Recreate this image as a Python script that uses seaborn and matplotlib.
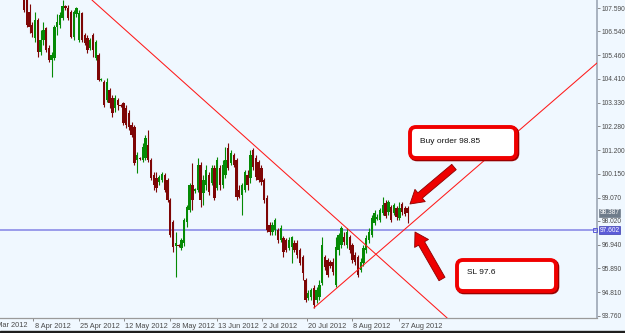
import numpy as np
import pandas as pd
import matplotlib
matplotlib.use("Agg")
import matplotlib.pyplot as plt
import seaborn as sns
from matplotlib.patches import FancyBboxPatch, Rectangle, FancyArrowPatch
from matplotlib.transforms import IdentityTransform, ScaledTranslation, blended_transform_factory

# ---------------- data ----------------
opens = [108.17, 107.95, 107.41, 106.83, 106.24, 107.05, 105.61, 106.15, 106.69, 105.79,
         105.25, 105.34, 106.74, 106.83, 107.14, 107.68, 107.59, 107.41, 106.29, 107.32,
         106.15, 107.37, 106.38, 106.24, 105.79, 106.38, 105.34, 105.48, 104.35, 104.26,
         103.46, 103.91, 103.55, 103.10, 103.46, 103.23, 103.32, 103.10, 102.87, 102.33,
         102.24, 100.76, 100.85, 100.76, 100.85, 101.43, 100.76, 100.08, 99.95, 99.77,
         99.86, 100.08, 99.86, 98.96, 97.97, 96.89, 96.94, 96.80, 97.03, 97.97,
         98.51, 99.64, 99.37, 99.41, 100.53, 99.28, 99.64, 100.08, 99.72, 100.40,
         99.50, 100.40, 99.64, 100.08, 101.30, 100.62, 100.98, 100.76, 99.41, 99.19,
         99.41, 100.08, 99.95, 101.21, 100.85, 100.67, 100.40, 99.86, 99.05, 97.84,
         97.52, 97.61, 97.61, 97.16, 97.25, 97.16, 96.80, 96.85, 97.03, 97.03,
         96.71, 96.40, 95.37, 94.56, 94.60, 95.01, 94.47, 94.60, 95.23, 96.40,
         96.26, 96.17, 96.17, 95.14, 96.71, 96.94, 97.30, 96.94, 97.30, 96.94,
         96.49, 96.40, 95.82, 96.13, 96.71, 97.16, 97.39, 97.93, 98.11, 98.06,
         98.38, 98.83, 98.42, 98.65, 98.38, 98.60, 98.15, 98.78, 98.60, 98.60]
highs = [108.31, 108.08, 107.77, 106.96, 107.41, 107.14, 106.60, 106.96, 106.74, 105.93,
         105.61, 106.83, 107.32, 107.41, 107.95, 107.73, 107.73, 107.50, 107.50, 107.64,
         107.50, 107.41, 106.47, 106.38, 106.24, 106.47, 106.15, 105.57, 104.44, 104.35,
         104.44, 103.99, 103.68, 103.68, 103.55, 103.28, 103.37, 103.23, 103.01, 102.47,
         102.33, 101.12, 100.89, 101.52, 101.88, 102.11, 100.85, 100.22, 100.22, 100.08,
         100.22, 100.17, 99.95, 99.05, 98.06, 97.52, 96.98, 97.25, 98.15, 98.74,
         99.72, 100.62, 99.50, 100.85, 100.67, 100.08, 100.53, 100.22, 100.53, 100.53,
         100.89, 100.53, 100.76, 101.34, 101.52, 101.21, 101.07, 100.85, 99.64, 99.72,
         100.31, 100.31, 101.21, 101.30, 100.98, 100.76, 100.53, 99.95, 99.19, 97.97,
         97.97, 98.15, 97.70, 97.84, 97.34, 97.25, 97.30, 97.34, 97.16, 97.16,
         96.80, 96.49, 95.46, 94.92, 95.01, 95.14, 95.05, 95.37, 97.30, 96.49,
         96.35, 96.26, 96.35, 97.30, 97.48, 97.79, 97.52, 97.70, 97.39, 97.03,
         96.62, 96.49, 96.35, 96.94, 97.39, 97.70, 98.29, 98.51, 98.33, 98.60,
         99.10, 98.96, 98.96, 98.74, 98.83, 98.69, 98.87, 98.87, 98.69, 98.69]
lows = [107.41, 106.74, 106.47, 106.29, 106.06, 105.39, 105.48, 105.93, 105.61, 105.16,
        104.49, 105.25, 106.38, 106.69, 107.05, 107.50, 107.05, 106.24, 106.15, 107.19,
        106.06, 106.06, 105.93, 105.57, 105.70, 105.39, 105.25, 104.31, 104.31, 103.14,
        103.37, 103.10, 102.69, 102.92, 103.01, 103.14, 102.33, 102.20, 102.11, 101.79,
        100.53, 100.17, 100.76, 100.67, 100.76, 100.67, 99.86, 99.41, 99.32, 99.64,
        99.77, 99.32, 98.87, 97.30, 96.62, 95.50, 96.85, 96.71, 96.89, 97.75,
        98.42, 98.51, 99.28, 99.32, 98.65, 98.74, 99.41, 99.19, 99.64, 98.96,
        99.41, 99.41, 99.50, 99.95, 100.31, 100.53, 100.44, 98.96, 99.05, 98.29,
        99.32, 99.41, 99.72, 100.31, 99.86, 99.77, 99.64, 98.83, 97.52, 97.39,
        97.39, 97.39, 97.03, 97.07, 96.40, 96.62, 96.71, 96.13, 96.62, 96.35,
        96.04, 95.37, 94.38, 94.47, 94.47, 94.11, 94.33, 94.47, 95.14, 95.82,
        95.50, 95.91, 95.59, 95.05, 96.49, 96.80, 96.94, 96.80, 96.58, 96.13,
        96.04, 95.50, 95.73, 96.00, 96.58, 97.03, 97.30, 97.84, 98.06, 97.97,
        98.29, 98.15, 98.29, 97.97, 98.29, 98.06, 98.06, 98.29, 98.24, 97.93]
closes = [107.50, 106.83, 106.74, 106.47, 107.05, 105.61, 106.15, 106.60, 105.70, 105.25,
          105.48, 106.74, 106.96, 107.28, 107.68, 107.59, 107.14, 106.29, 107.41, 107.59,
          107.37, 106.15, 106.02, 105.70, 106.15, 105.70, 106.06, 104.35, 104.40, 103.23,
          104.26, 103.32, 102.87, 103.55, 103.23, 103.19, 102.42, 102.33, 102.24, 101.88,
          100.62, 100.98, 100.80, 101.34, 101.75, 100.76, 99.95, 99.64, 99.50, 99.99,
          100.13, 99.41, 98.96, 97.39, 96.85, 97.03, 96.89, 97.16, 98.06, 98.65,
          99.64, 98.96, 99.46, 100.53, 98.96, 99.86, 100.31, 99.32, 100.40, 99.05,
          100.76, 99.64, 100.53, 100.76, 100.40, 101.07, 100.53, 99.10, 99.10, 99.64,
          100.22, 99.64, 100.98, 100.44, 99.99, 99.86, 99.77, 98.96, 97.61, 97.52,
          97.84, 98.06, 97.16, 97.70, 96.62, 96.71, 97.16, 97.30, 96.71, 96.49,
          96.13, 95.68, 94.47, 94.78, 94.92, 94.24, 94.92, 95.14, 96.94, 95.95,
          95.59, 96.00, 95.73, 96.85, 97.39, 97.70, 97.07, 97.52, 96.71, 96.26,
          96.17, 95.59, 96.17, 96.80, 97.25, 97.52, 98.15, 98.38, 98.20, 98.51,
          98.74, 98.24, 98.87, 98.06, 98.74, 98.20, 98.60, 98.42, 98.33, 98.39]

price_ticks = [107.590, 106.540, 105.460, 104.410, 103.330, 102.280, 101.200,
               100.150, 99.070, 98.020, 96.940, 95.890, 94.810, 93.760]
price_labels = ["107.590", "106.540", "105.460", "104.410", "103.330", "102.280", "101.200",
                "100.150", "99.070", "98.020", "96.940", "95.890", "94.810", "93.760"]
date_labels = ["22 Mar 2012", "8 Apr 2012", "25 Apr 2012", "12 May 2012", "28 May 2012",
               "13 Jun 2012", "2 Jul 2012", "20 Jul 2012", "8 Aug 2012", "27 Aug 2012"]
date_bars = [-14.5, 3.3, 19.9, 36.2, 52.9, 69.9, 86.2, 102.5, 118.8, 135.9]

order_level = 97.602
last_price = 98.387
trend_down_bars = [24.6, 153.3]
trend_down_prices = [107.95, 93.66]
trend_up_bars = [105, 207.6]
trend_up_prices = [94.11, 105.12]
buy_text = "Buy order 98.85"
sl_text = "SL 97.6"

# ---------------- style ----------------
sns.set_theme(style="white", rc={"axes.facecolor": "#f0f8ff", "figure.facecolor": "#f0f8ff"})
plt.rcParams["font.family"] = ["Liberation Sans", "DejaVu Sans"]

W, H = 625, 333
fig = plt.figure(figsize=(W / 100, H / 100), dpi=100)
ax = fig.add_axes([0, 15 / H, 597 / W, 318 / H])

df = pd.DataFrame({"bar": np.arange(len(opens)), "open": opens, "high": highs,
                   "low": lows, "close": closes})
df["up"] = df["close"] >= df["open"]
up_c, dn_c = "#058a05", "#7e0606"
colors = np.where(df["up"], up_c, dn_c)

ax.vlines(df["bar"], df["low"], df["high"], colors=colors, linewidth=0.8, zorder=2)
body_lo = np.minimum(df["open"], df["close"])
body_h = np.maximum(np.abs(df["close"] - df["open"]), 0.04)
ax.bar(df["bar"], body_h, bottom=body_lo, width=0.86, color=colors, linewidth=0, zorder=3)

# trend lines
ax.axline((trend_down_bars[0], trend_down_prices[0]), (trend_down_bars[1], trend_down_prices[1]),
          color="#ff1a1a", lw=0.75, zorder=4)
sns.lineplot(x=trend_up_bars, y=trend_up_prices, ax=ax, color="#ff1a1a", lw=0.75, zorder=4)

# order level line
ax.axhline(order_level, color="#8c8ce8", lw=1.2, zorder=1)

ax.set_xlim(-8.7, 207.6)
ax.set_ylim(93.658, 107.95)

# axes styling
for s in ["left", "top"]:
    ax.spines[s].set_visible(False)
ax.spines["right"].set_color("#a3adbb")
ax.spines["right"].set_linewidth(1.3)
ax.spines["bottom"].set_color("#9a9a9a")
ax.spines["bottom"].set_linewidth(0.9)

ax.yaxis.tick_right()
ax.set_yticks(price_ticks, labels=price_labels)
ax.tick_params(axis="y", direction="out", length=2.2, width=0.7, color="#8a8a8a",
               pad=1.0, labelsize=4.8, labelcolor="#4a4a4a", right=True, left=False)
ax.set_xticks(date_bars[1:], labels=date_labels[1:])
ax.tick_params(axis="x", direction="out", length=2.5, width=0.7, color="#8a8a8a",
               pad=0.8, labelsize=5.3, labelcolor="#4a4a4a", bottom=True)
shift = ScaledTranslation(1.5 / 100, 0, fig.dpi_scale_trans)
for lab in ax.get_xticklabels():
    lab.set_horizontalalignment("left")
    lab.set_transform(lab.get_transform() + shift)
ax.annotate(date_labels[0], xy=(date_bars[0], 0), xycoords=("data", "axes fraction"),
            xytext=(1.1, -3.2), textcoords="offset points", ha="left", va="top",
            fontsize=5.3, color="#4a4a4a", annotation_clip=False)
ax.set_xlabel("")
ax.set_ylabel("")

# right-side price boxes
bt = blended_transform_factory(ax.transAxes, ax.transData)
ax.text(1.004, order_level, f"{order_level:.3f}", transform=bt, ha="left", va="center",
        fontsize=4.8, color="white", clip_on=False, zorder=6,
        bbox=dict(boxstyle="square,pad=0.1", fc="#5b5bd8", ec="#3c3cb0", lw=0.5))
ax.text(1.004, last_price, f"{last_price:.3f}", transform=bt, ha="left", va="center",
        fontsize=4.8, color="white", clip_on=False, zorder=6,
        bbox=dict(boxstyle="square,pad=0.1", fc="#6f7c8a", ec="#6f7c8a", lw=0.5))
ax.plot([207.0], [order_level], marker="s", ms=2.6, mfc="none", mec="#5b5bd8", mew=0.7,
        clip_on=False, zorder=6)

# ---------------- annotations (figure pixels) ----------------
idt = IdentityTransform()
def P(x, y):
    return (x, H - y)

for (x0, y0, x1, y1) in [(410, 127, 516, 158), (457, 260, 556, 291)]:
    shadow = FancyBboxPatch(P(x0 + 1.2, y1 + 1.2), x1 - x0, y1 - y0,
                            boxstyle="round,pad=0,rounding_size=6", transform=idt,
                            ec="#9a0000", fc="none", lw=3.0, zorder=5)
    fig.add_artist(shadow)
    box = FancyBboxPatch(P(x0, y1), x1 - x0, y1 - y0,
                         boxstyle="round,pad=0,rounding_size=6", transform=idt,
                         ec="#f00000", fc="white", lw=2.8, zorder=6)
    fig.add_artist(box)

fig.text(420 / W, 1 - 142 / H, buy_text, ha="left", va="center", fontsize=6,
         color="#111111", zorder=7)
fig.text(467 / W, 1 - 273 / H, sl_text, ha="left", va="center", fontsize=6,
         color="#111111", zorder=7)

for tail, tip in [((454, 167), (410, 204)), ((442, 279), (415, 232))]:
    arr = FancyArrowPatch(P(*tail), P(*tip), transform=idt,
                          arrowstyle="simple,head_length=0.95,head_width=1.15,tail_width=0.5",
                          mutation_scale=10, fc="#ee0000", ec="#8b0000", lw=0.6,
                          shrinkA=0, shrinkB=0, zorder=7)
    fig.add_artist(arr)

# bottom dark border
fig.add_artist(Rectangle((0, 0), 1, 2.5 / H, transform=fig.transFigure,
                         color="#1e1e1e", zorder=8))

fig.savefig("out.png", dpi=100, facecolor=fig.get_facecolor())
